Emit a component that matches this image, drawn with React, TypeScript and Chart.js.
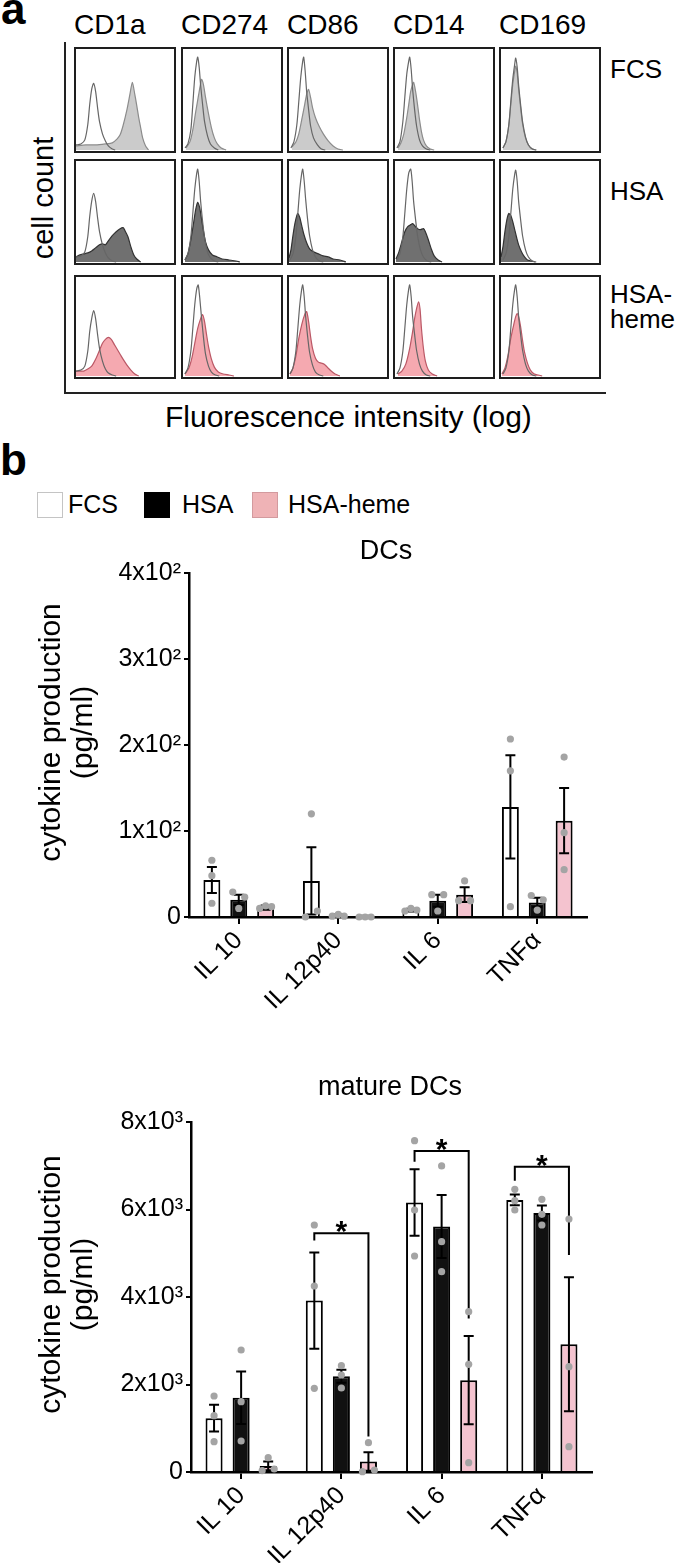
import React, { useEffect, useRef } from 'react';
import { Chart, registerables } from 'chart.js';
Chart.register(...registerables);

const FONT = "'Liberation Sans', Arial, Helvetica, sans-serif";

// ---------- Panel a: flow cytometry histograms (x,y in % of the box) ----------
const markers = ['CD1a', 'CD274', 'CD86', 'CD14', 'CD169'];
const conditions = ['FCS', 'HSA', 'HSA-heme'];

const isoCD1aFCS = [[0,5],[5,6],[9,10],[12,25],[14,45],[16,60],[18,66],[20,58],[22,42],[24,28],[27,16],[30,9],[33,4],[37,1],[40,0]];
const cd1aFCS = [[0,4],[10,5],[20,5],[30,6],[37,7],[42,11],[45,15],[48,24],[52,40],[55,55],[57.5,67],[60,55],[62,44],[64,32],[66,22],[68,12],[71,4],[74,0]];
const isoCD274FCS = [[2,2],[5,6],[8,20],[10,45],[12,72],[14,88],[15,92],[16.5,82],[18,64],[20,45],[22,28],[25,14],[28,6],[32,2],[36,0]];
const cd274FCS = [[3,2],[7,8],[10,20],[13,38],[16,55],[18,66],[19,70],[21,64],[23,52],[26,36],[29,22],[32,12],[35,6],[39,2],[44,0]];
const isoCD86FCS = [[2,2],[5,8],[8,25],[10,48],[12,72],[14,88],[15,92],[16.5,78],[18,58],[20,40],[22,24],[25,12],[29,5],[33,1],[37,0]];
const cd86FCS = [[3,3],[7,8],[10,16],[13,30],[16,45],[18,55],[20,60],[22,52],[24,42],[27,32],[31,23],[35,16],[40,9],[45,4],[50,1],[55,0]];
const isoCD14FCS = [[2,2],[5,8],[8,28],[10,52],[12,75],[14,88],[15,92],[16.5,80],[18,60],[20,40],[22,24],[25,10],[28,4],[32,1],[36,0]];
const cd14FCS = [[3,2],[6,7],[9,16],[12,32],[14,45],[16,58],[18,65],[19,67],[21,58],[23,45],[25,30],[27,18],[29,10],[32,4],[36,1],[40,0]];
const isoCD169FCS = [[2,2],[5,8],[8,25],[10,48],[12,70],[14,85],[15,91],[16.5,82],[18,64],[20,45],[22,28],[25,13],[28,5],[32,1],[36,0]];
const cd169FCS = [[2,2],[5,8],[8,25],[10,45],[12,65],[14,78],[15,83],[16.5,76],[18,60],[20,42],[22,26],[25,12],[28,5],[32,1],[36,0]];

const isoCD1aHSA = [[0,5],[5,6],[9,10],[12,25],[14,45],[16,60],[18,68],[20,60],[22,44],[24,30],[27,17],[30,9],[33,4],[37,1],[41,0]];
const cd1aHSA = [[0,5],[4,7],[8,8],[12,9],[16,11],[20,14],[24,17],[27,18],[30,17],[33,21],[37,26],[41,30],[45,33],[48,34],[50,31],[53,25],[56,15],[59,7],[62,3],[66,0]];
const isoCD274HSA = [[2,2],[5,8],[8,25],[10,48],[12,72],[14,88],[15,92],[16.5,80],[18,60],[20,40],[22,24],[25,10],[28,4],[32,1],[36,0]];
const cd274HSA = [[2,2],[5,8],[8,22],[11,40],[13,52],[15,59],[17,54],[19,42],[21,30],[23,20],[26,12],[30,7],[35,5],[40,3],[47,2],[54,1],[58,0]];
const isoCD86HSA = [[1,2],[4,8],[7,25],[9,48],[11,72],[13,88],[14,92],[15.5,80],[17,62],[19,42],[21,26],[24,12],[27,5],[31,1],[35,0]];
const cd86HSA = [[0,4],[2,12],[4,26],[6,38],[8,46],[9,48],[11,44],[13,36],[15,28],[18,19],[21,13],[25,10],[30,8],[35,6],[40,5],[45,3],[52,2],[58,0]];
const isoCD14HSA = [[2,2],[5,8],[8,25],[10,48],[12,72],[14,88],[16,92],[17.5,80],[19,60],[21,42],[23,26],[26,12],[29,5],[33,1],[37,0]];
const cd14HSA = [[1,3],[4,10],[7,20],[10,30],[13,35],[16,37],[18,38],[20,36],[23,33],[26,32],[29,33],[31,30],[34,22],[37,13],[40,6],[44,2],[48,0]];
const isoCD169HSA = [[2,2],[5,8],[8,25],[10,48],[12,72],[14,87],[15,91],[16.5,80],[18,60],[20,42],[22,26],[25,12],[28,5],[32,1],[36,0]];
const cd169HSA = [[0,5],[2,15],[4,30],[6,42],[8,48],[10,46],[12,40],[14,32],[16,24],[18,17],[21,10],[24,5],[27,2],[31,1],[35,0]];

const isoCD1aHeme = [[0,5],[5,6],[9,10],[12,25],[14,45],[16,58],[18,66],[20,58],[22,42],[24,28],[27,15],[30,7],[33,3],[37,1],[41,0]];
const cd1aHeme = [[0,5],[4,5],[8,5],[12,7],[16,10],[20,17],[24,26],[27,33],[30,37],[33,39],[36,37],[39,32],[42,27],[45,22],[48,17],[52,11],[56,6],[60,2],[64,0]];
const isoCD274Heme = [[2,2],[5,8],[8,25],[10,48],[12,72],[14,88],[15.5,92],[17,80],[19,58],[21,38],[23,22],[26,10],[29,4],[33,1],[37,0]];
const cd274Heme = [[2,2],[6,8],[9,18],[12,33],[15,48],[18,58],[20,62],[22,55],[24,42],[26,30],[29,17],[32,9],[36,4],[41,2],[47,1],[52,0]];
const isoCD86Heme = [[1,2],[4,8],[7,25],[9,48],[11,72],[13,88],[14,92],[15.5,80],[17,60],[19,40],[21,24],[24,11],[27,4],[31,1],[35,0]];
const cd86Heme = [[1,2],[4,8],[7,20],[10,38],[13,52],[16,62],[18,65],[20,55],[22,40],[24,28],[27,18],[30,14],[33,13],[36,12],[39,9],[43,5],[47,2],[52,0]];
const isoCD14Heme = [[2,2],[5,8],[8,25],[10,48],[12,72],[14,88],[15,92],[16.5,80],[18,60],[20,42],[22,26],[25,12],[28,5],[32,1],[36,0]];
const cd14Heme = [[3,2],[7,5],[11,12],[15,28],[18,45],[20,58],[22,68],[24,75],[25.5,68],[27,48],[29,28],[31,15],[34,6],[38,2],[43,0]];
const isoCD169Heme = [[2,2],[5,8],[8,25],[10,48],[12,72],[14,88],[15,92],[16.5,80],[18,60],[20,42],[22,26],[25,12],[28,5],[32,1],[36,0]];
const cd169Heme = [[1,2],[4,8],[7,20],[10,38],[13,52],[15,60],[16.5,63],[18,60],[20,50],[22,36],[24,24],[27,13],[30,6],[34,2],[38,1],[42,0]];

const histGrid = [
  [[isoCD1aFCS, cd1aFCS], [isoCD274FCS, cd274FCS], [isoCD86FCS, cd86FCS], [isoCD14FCS, cd14FCS], [isoCD169FCS, cd169FCS]],
  [[isoCD1aHSA, cd1aHSA], [isoCD274HSA, cd274HSA], [isoCD86HSA, cd86HSA], [isoCD14HSA, cd14HSA], [isoCD169HSA, cd169HSA]],
  [[isoCD1aHeme, cd1aHeme], [isoCD274Heme, cd274Heme], [isoCD86Heme, cd86Heme], [isoCD14Heme, cd14Heme], [isoCD169Heme, cd169Heme]],
];
const histFill = ['#cbcbcb', '#707070', '#f5a9b0'];
const histEdge = ['#8c8c8c', '#333333', '#bb5866'];

// ---------- Panel b: cytokines ----------
const cytokines = ['IL 10', 'IL 12p40', 'IL 6', 'TNFα'];
const seriesNames = ['FCS', 'HSA', 'HSA-heme'];
const yTitleLines = ['\u00A0\u00A0\u00A0cytokine production', '\u00A0\u00A0\u00A0(pg/ml)'];

// DCs (pg/ml)
const dcTickValues = [0, 100, 200, 300, 400];
const dcTickLabels = ['0', '1x10²', '2x10²', '3x10²', '4x10²'];
const dcMeanFCS = [43, 42, 8, 128];
const dcSemFCS = [15, 39, 1.5, 60];
const dcMeanHSA = [20, 2, 19, 17];
const dcSemHSA = [6, 0.8, 7, 5.5];
const dcMeanHeme = [11, 1, 26, 112];
const dcSemHeme = [2.5, 0.4, 8.5, 38];
const dcDotsFCS = [[66, 48, 16], [0, 120, 7], [7, 10, 8], [207, 170, 12]];
const dcDotsHSA = [[29, 10, 23], [1, 3, 1], [26, 7, 26], [25, 8, 20]];
const dcDotsHeme = [[10, 13, 12], [0, 0, 0], [19, 42, 19], [186, 98, 55]];
const dcJitFCS = [[0, 0, 0], [-1, 0, 1], [-1, 0, 1], [0, 0, 0]];
const dcJitHSA = [[-1, 0, 1], [-1, 0, 1], [-1, 0, 1], [-1, 0, 1]];
const dcJitHeme = [[-1, 0, 1], [-1, 0, 1], [-1, 0, 1], [0, 0, 0]];

// mature DCs (pg/ml)
const mTickValues = [0, 2000, 4000, 6000, 8000];
const mTickLabels = ['0', '2x10³', '4x10³', '6x10³', '8x10³'];
const mMeanFCS = [1230, 3920, 6160, 6220];
const mSemFCS = [305, 1100, 760, 125];
const mMeanHSA = [1700, 2190, 5610, 5920];
const mSemHSA = [600, 150, 720, 170];
const mMeanHeme = [140, 240, 2100, 2920];
const mSemHeme = [100, 210, 1010, 1530];
const mDotsFCS = [[1737, 1288, 693], [5646, 4252, 1913], [7573, 5989, 4937], [6462, 6202, 5989]];
const mDotsHSA = [[2789, 1608, 709], [2430, 2217, 1920], [6995, 5265, 4579], [6233, 5890, 5646]];
const mDotsHeme = [[30, 327, 69], [7, 670, 46], [3664, 2461, 213], [5783, 2407, 578]];
const mJitFCS = [[0, 0, 0], [0, 0, 0], [0, 0, 0], [0, 0, 0]];
const mJitHSA = [[0, 0, 0], [0, 0, 0], [0, 0, 0], [0, 0, 0]];
const mJitHeme = [[-1, 0, 1], [-1, 0, 1], [0, 0, 0], [0, 0, 0]];
const mSigGroups = [1, 2, 3];
const mSigTop = [5460, 7340, 6980];
const mSigLeftFoot = [5290, 7090, 6660];
const mSigRightFoot = [810, 3510, 4960];

// ---------- layout ----------
const colLefts = [74, 181, 287, 393, 499];
const rowTops = [47, 159, 275];
const rowHeights = [106, 106, 104];
const BOX_W = 102;

function Txt({ x, y, size, bold, align, children, style }: any) {
  const tx = align === 'center' ? 'translateX(-50%)' : align === 'right' ? 'translateX(-100%)' : '';
  return (
    <div style={{ position: 'absolute', left: x, top: y - 0.8465 * size, fontFamily: FONT, fontSize: size, lineHeight: `${size}px`, fontWeight: bold ? 700 : 400, whiteSpace: 'nowrap', color: '#000', transform: tx, ...style }}>
      {children}
    </div>
  );
}

function Histogram({ iso, filled, fill, edge, left, top, width, height }: any) {
  const ref = useRef<HTMLCanvasElement>(null);
  const w = width - 4, h = height - 4;
  useEffect(() => {
    const toPts = (a: number[][]) => a.map(([x, y]) => ({ x, y }));
    const chart = new Chart(ref.current!, {
      type: 'scatter',
      data: {
        datasets: [
          { data: toPts(iso), showLine: true, fill: false, borderColor: '#666666', borderWidth: 1.2, pointRadius: 0, tension: 0.25 } as any,
          { data: toPts(filled), showLine: true, fill: 'origin', backgroundColor: fill, borderColor: edge, borderWidth: 1.2, pointRadius: 0, tension: 0.25 } as any,
        ],
      },
      options: {
        animation: false, responsive: false, events: [],
        layout: { padding: 0 },
        plugins: { legend: { display: false }, tooltip: { enabled: false } },
        scales: {
          x: { type: 'linear', min: 0, max: 100, display: false },
          y: { type: 'linear', min: -1, max: 100, display: false },
        },
      } as any,
    });
    return () => chart.destroy();
  }, []);
  return (
    <div style={{ position: 'absolute', left, top, width, height, border: '2px solid #1e1e1e', boxSizing: 'border-box', background: '#fff' }}>
      <canvas ref={ref} width={w} height={h} style={{ display: 'block', width: w, height: h }} />
    </div>
  );
}

function BarChart({ canvasTop, canvasHeight, area, yMax, yStep, tickValues, tickLabels, means, sems, dots, jits, sig }: any) {
  const ref = useRef<HTMLCanvasElement>(null);
  const dotRef = useRef<HTMLCanvasElement>(null);
  useEffect(() => {
    const fills = ['#ffffff', '#111111', '#f4c3cf'];
    const slot = 0.27, jitUnit = 0.06;
    const padTop = area.top - canvasTop;
    const padRight = 685 - area.right;
    const xH = canvasTop + canvasHeight - area.bottom;

    const barSets = means.map((m: number[], s: number) => ({
      label: seriesNames[s], data: m, backgroundColor: fills[s], borderColor: '#000', borderWidth: 2,
      barPercentage: 0.63, categoryPercentage: 0.81,
    }));
    const errPlugin = {
      id: 'errbars',
      afterDatasetsDraw(chart: any) {
        const ctx = chart.ctx, y = chart.scales.y;
        ctx.save();
        ctx.strokeStyle = '#000';
        ctx.lineWidth = 2;
        means.forEach((series: number[], s: number) => {
          const meta = chart.getDatasetMeta(s);
          series.forEach((m, i) => {
            const x = meta.data[i].x, e = sems[s][i];
            const yt = y.getPixelForValue(m + e), yb = y.getPixelForValue(Math.max(0, m - e));
            ctx.beginPath();
            ctx.moveTo(x, yt); ctx.lineTo(x, yb);
            ctx.moveTo(x - 5, yt); ctx.lineTo(x + 5, yt);
            ctx.moveTo(x - 5, yb); ctx.lineTo(x + 5, yb);
            ctx.stroke();
          });
        });
        if (sig) {
          ctx.fillStyle = '#000';
          ctx.font = `bold 30px ${FONT}`;
          ctx.textAlign = 'center';
          ctx.textBaseline = 'alphabetic';
          sig.groups.forEach((g: number, k: number) => {
            const x1 = chart.getDatasetMeta(0).data[g].x, x2 = chart.getDatasetMeta(2).data[g].x;
            const yt = y.getPixelForValue(sig.top[k]);
            ctx.beginPath();
            ctx.moveTo(x1, y.getPixelForValue(sig.leftFoot[k]));
            ctx.lineTo(x1, yt);
            ctx.lineTo(x2, yt);
            ctx.lineTo(x2, y.getPixelForValue(sig.rightFoot[k]));
            ctx.stroke();
            ctx.fillText('*', (x1 + x2) / 2, yt + 8);
          });
        }
        ctx.restore();
      },
    };
    const chart = new Chart(ref.current!, {
      type: 'bar',
      data: { labels: cytokines, datasets: barSets },
      options: {
        animation: false, responsive: false, events: [],
        layout: { padding: { top: padTop, right: padRight, left: 0, bottom: 0 } },
        plugins: { legend: { display: false }, tooltip: { enabled: false } },
        scales: {
          x: {
            type: 'category', offset: true,
            grid: { offset: false, drawOnChartArea: false, drawTicks: true, tickLength: 7, color: '#000', lineWidth: 2 },
            border: { display: true, color: '#000', width: 2.5 },
            ticks: { color: '#000', font: { family: FONT, size: 25 }, minRotation: 45, maxRotation: 45, autoSkip: false, padding: 2 },
            afterFit: (sc: any) => { sc.height = xH; },
          },
          y: {
            type: 'linear', min: 0, max: yMax,
            ticks: {
              stepSize: yStep, color: '#000', font: { family: FONT, size: 25 }, padding: 3,
              callback: (v: any) => { const i = tickValues.indexOf(Number(v)); return i >= 0 ? tickLabels[i] : ''; },
            },
            grid: { drawOnChartArea: false, drawTicks: true, tickLength: 5, color: '#000', lineWidth: 2 },
            border: { display: true, color: '#000', width: 2.5 },
            title: {
              display: true, text: yTitleLines, color: '#000',
              font: { family: FONT, size: 30, lineHeight: 1.05 }, padding: { top: 36, bottom: 0 },
            },
            afterFit: (sc: any) => { sc.width = area.left; },
          },
        },
      } as any,
      plugins: [errPlugin],
    });

    // individual donors: overlay scatter chart with the same plot area
    const dotSets = dots.map((d: number[][], s: number) => ({
      label: seriesNames[s] + ' donors',
      data: d.flatMap((vals, i) => vals.map((v, k) => ({ x: i + (s - 1) * slot + jits[s][i][k] * jitUnit, y: v }))),
      pointRadius: 3.6, pointBackgroundColor: '#a4a4a4', backgroundColor: '#a4a4a4', pointBorderWidth: 0, borderWidth: 0,
      showLine: false, clip: false,
    }));
    const dotChart = new Chart(dotRef.current!, {
      type: 'scatter',
      data: { datasets: dotSets },
      options: {
        animation: false, responsive: false, events: [],
        layout: { padding: { top: padTop, right: padRight, left: area.left, bottom: xH } },
        plugins: { legend: { display: false }, tooltip: { enabled: false } },
        scales: {
          x: { type: 'linear', min: -0.5, max: 3.5, display: false },
          y: { type: 'linear', min: 0, max: yMax, display: false },
        },
      } as any,
    });
    return () => { chart.destroy(); dotChart.destroy(); };
  }, []);
  const st: any = { position: 'absolute', left: 0, top: canvasTop, width: 685, height: canvasHeight, display: 'block' };
  return (
    <>
      <canvas ref={ref} width={685} height={canvasHeight} style={st} />
      <canvas ref={dotRef} width={685} height={canvasHeight} style={st} />
    </>
  );
}

export default function App() {
  const rowLabelBaselines = [[78], [200], [303, 328]];
  const rowLabelLines = [['FCS'], ['HSA'], ['HSA-', 'heme']];
  return (
    <div style={{ position: 'absolute', left: 0, top: 0, width: 685, height: 1563, background: '#fff', overflow: 'hidden' }}>
      {/* Panel a */}
      <Txt x={1} y={24} size={44} bold>a</Txt>
      {markers.map((m, c) => (
        <Txt key={m} x={colLefts[c]} y={35} size={28}>{m}</Txt>
      ))}
      {rowLabelLines.map((lines, r) => lines.map((t, j) => (
        <Txt key={conditions[r] + j} x={610} y={rowLabelBaselines[r][j]} size={26}>{t}</Txt>
      )))}
      <div style={{ position: 'absolute', left: 43, top: 198, transform: 'translate(-50%,-50%) rotate(-90deg)', fontFamily: FONT, fontSize: 29, lineHeight: '29px', whiteSpace: 'nowrap', color: '#000' }}>cell count</div>
      <div style={{ position: 'absolute', left: 64, top: 42, width: 2, height: 352, background: '#222' }} />
      <div style={{ position: 'absolute', left: 64, top: 392, width: 542, height: 2, background: '#222' }} />
      {histGrid.map((row, r) => row.map(([iso, filled], c) => (
        <Histogram key={`${r}-${c}`} iso={iso} filled={filled} fill={histFill[r]} edge={histEdge[r]}
          left={colLefts[c]} top={rowTops[r]} width={BOX_W} height={rowHeights[r]} />
      )))}
      <Txt x={165} y={427} size={30}>Fluorescence intensity (log)</Txt>

      {/* Panel b */}
      <Txt x={0} y={475} size={44} bold>b</Txt>
      <div style={{ position: 'absolute', left: 37, top: 492, width: 26, height: 26, boxSizing: 'border-box', border: '1.5px solid #c4c4c4', background: '#fff' }} />
      <Txt x={68} y={513} size={25}>{seriesNames[0]}</Txt>
      <div style={{ position: 'absolute', left: 144, top: 492, width: 26, height: 26, background: '#000' }} />
      <Txt x={182} y={513} size={25}>{seriesNames[1]}</Txt>
      <div style={{ position: 'absolute', left: 252, top: 492, width: 26, height: 26, boxSizing: 'border-box', border: '1.5px solid #d39a9e', background: '#efb3b6' }} />
      <Txt x={288} y={513} size={25}>{seriesNames[2]}</Txt>

      <BarChart canvasTop={555} canvasHeight={455} area={{ top: 573, bottom: 917, left: 189, right: 587 }}
        yMax={400} yStep={100} tickValues={dcTickValues} tickLabels={dcTickLabels}
        means={[dcMeanFCS, dcMeanHSA, dcMeanHeme]} sems={[dcSemFCS, dcSemHSA, dcSemHeme]}
        dots={[dcDotsFCS, dcDotsHSA, dcDotsHeme]} jits={[dcJitFCS, dcJitHSA, dcJitHeme]} sig={null} />
      <Txt x={386} y={560} size={27} align="center">DCs</Txt>

      <BarChart canvasTop={1100} canvasHeight={463} area={{ top: 1122, bottom: 1472, left: 191, right: 592 }}
        yMax={8000} yStep={2000} tickValues={mTickValues} tickLabels={mTickLabels}
        means={[mMeanFCS, mMeanHSA, mMeanHeme]} sems={[mSemFCS, mSemHSA, mSemHeme]}
        dots={[mDotsFCS, mDotsHSA, mDotsHeme]} jits={[mJitFCS, mJitHSA, mJitHeme]}
        sig={{ groups: mSigGroups, top: mSigTop, leftFoot: mSigLeftFoot, rightFoot: mSigRightFoot }} />
      <Txt x={390} y={1096} size={27} align="center">mature DCs</Txt>
    </div>
  );
}
